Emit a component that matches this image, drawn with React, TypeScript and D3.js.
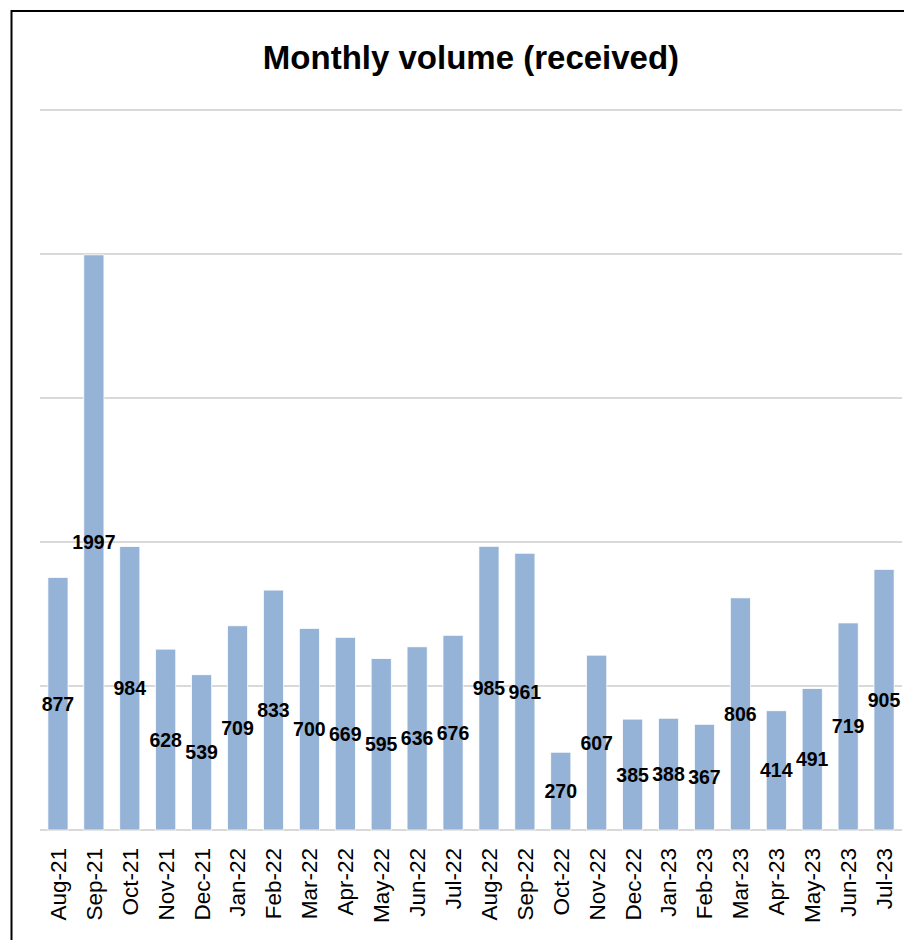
import React, { useRef, useEffect } from 'react';
import * as d3 from 'd3';

const months = [
  'Aug-21', 'Sep-21', 'Oct-21', 'Nov-21', 'Dec-21', 'Jan-22', 'Feb-22', 'Mar-22',
  'Apr-22', 'May-22', 'Jun-22', 'Jul-22', 'Aug-22', 'Sep-22', 'Oct-22', 'Nov-22',
  'Dec-22', 'Jan-23', 'Feb-23', 'Mar-23', 'Apr-23', 'May-23', 'Jun-23', 'Jul-23'
];
const received = [
  877, 1997, 984, 628, 539, 709, 833, 700, 669, 595, 636, 676,
  985, 961, 270, 607, 385, 388, 367, 806, 414, 491, 719, 905
];
const gridTicks = [0, 500, 1000, 1500, 2000, 2500];

const W = 914;
const H = 940;

const App: React.FC = () => {
  const ref = useRef<SVGSVGElement | null>(null);

  useEffect(() => {
    if (!ref.current) return;
    const svg = d3.select(ref.current);
    svg.selectAll('*').remove();

    const margin = { top: 110, right: 12, bottom: 110, left: 40 };
    const innerWidth = W - margin.left - margin.right;
    const innerHeight = H - margin.top - margin.bottom;

    const x = d3.scaleBand<string>().domain(months).range([0, innerWidth]).paddingInner(0.44).paddingOuter(0.22);
    const y = d3.scaleLinear().domain([0, 2500]).range([innerHeight, 0]);

    // chart frame
    svg.append('line').attr('x1', 11).attr('x2', 904).attr('y1', 11).attr('y2', 11)
      .attr('stroke', '#000').attr('stroke-width', 2);
    svg.append('line').attr('x1', 11.5).attr('x2', 11.5).attr('y1', 10).attr('y2', H)
      .attr('stroke', '#000').attr('stroke-width', 2);

    svg.append('text')
      .attr('x', 471)
      .attr('y', 69)
      .attr('text-anchor', 'middle')
      .attr('font-family', 'Liberation Sans, Arial, sans-serif')
      .attr('font-weight', 'bold')
      .attr('font-size', 33)
      .attr('fill', '#000')
      .text('Monthly volume (received)');

    const g = svg.append('g').attr('transform', `translate(${margin.left},${margin.top})`);

    g.append('g')
      .selectAll('line')
      .data(gridTicks)
      .join('line')
      .attr('x1', 0)
      .attr('x2', innerWidth)
      .attr('y1', d => y(d))
      .attr('y2', d => y(d))
      .attr('stroke', '#d9d9d9')
      .attr('stroke-width', 2);

    g.append('g')
      .selectAll('rect')
      .data(received)
      .join('rect')
      .attr('x', (_, i) => x(months[i]) as number)
      .attr('width', x.bandwidth())
      .attr('y', d => y(d))
      .attr('height', d => innerHeight - y(d))
      .attr('fill', '#95b3d7')
      .attr('stroke', '#fff')
      .attr('stroke-width', 0.75);

    g.append('g')
      .selectAll('text')
      .data(received)
      .join('text')
      .attr('x', (_, i) => (x(months[i]) as number) + x.bandwidth() / 2)
      .attr('y', d => (y(d) + innerHeight) / 2)
      .attr('dy', '0.36em')
      .attr('text-anchor', 'middle')
      .attr('font-family', 'Liberation Sans, Arial, sans-serif')
      .attr('font-weight', 'bold')
      .attr('font-size', 19.5)
      .attr('fill', '#000')
      .text(d => d);

    const xAxis = g.append('g')
      .attr('transform', `translate(0,${innerHeight})`)
      .call(d3.axisBottom(x).tickSize(0).tickPadding(0));
    xAxis.select('.domain').remove();
    xAxis.selectAll('text')
      .attr('transform', 'rotate(-90)')
      .attr('x', -18)
      .attr('y', 0)
      .attr('dy', '0.35em')
      .attr('text-anchor', 'end')
      .attr('font-family', 'Liberation Sans, Arial, sans-serif')
      .attr('font-size', 22.5)
      .attr('fill', '#000');
  }, []);

  return (
    <svg
      ref={ref}
      width={W}
      height={H}
      viewBox={`0 0 ${W} ${H}`}
      style={{ position: 'absolute', left: 0, top: 0, background: '#fff' }}
    />
  );
};

export default App;
